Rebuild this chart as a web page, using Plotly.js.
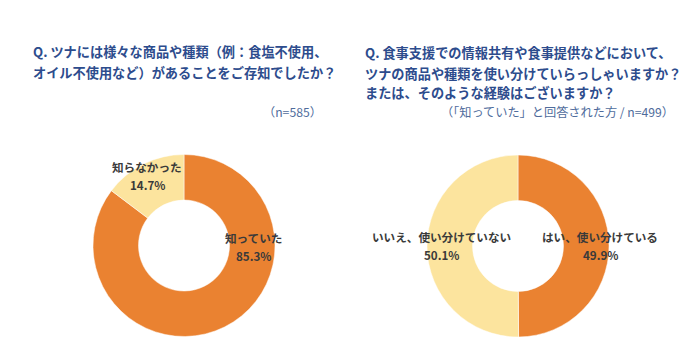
<!DOCTYPE html>
<html>
<head>
<meta charset="utf-8">
<script src="https://cdn.plot.ly/plotly-3.0.1.min.js"></script>
<style>html,body{margin:0;padding:0;background:#fff;}#chart{width:698px;height:364px;}</style>
</head>
<body>
<div id="chart"></div>
<script>
// Left chart data
const leftLabels = ["知っていた", "知らなかった"];
const leftValues = [85.3, 14.7];
// Right chart data
const rightLabels = ["はい、使い分けている", "いいえ、使い分けていない"];
const rightValues = [49.9, 50.1];
const sliceColors = ["#EA8231", "#FCE49E"];

const leftTitleLines = ["Q. ツナには様々な商品や種類（例：食塩不使用、", "オイル不使用など）があることをご存知でしたか？"];
const leftNote = "（n=585）";
const rightTitleLines = ["Q. 食事支援での情報共有や食事提供などにおいて、", "ツナの商品や種類を使い分けていらっしゃいますか？", "または、そのような経験はございますか？"];
const rightNote = "（「知っていた」と回答された方 / n=499）";

const W = 698, H = 364;
const px = x => x / W;
const py = y => 1 - y / H;

const font = "Noto Sans CJK JP, Noto Sans, sans-serif";
const pieCommon = {
  type: "pie", hole: 0.5, sort: false, direction: "clockwise", rotation: 0,
  textinfo: "none", hoverinfo: "label+percent", showlegend: false,
  marker: {colors: sliceColors, line: {color: "#ffffff", width: 0.5}}
};
const data = [
  Object.assign({}, pieCommon, {labels: leftLabels, values: leftValues,
    domain: {x: [px(93), px(275)], y: [py(337), py(154)]}}),
  Object.assign({}, pieCommon, {labels: rightLabels, values: rightValues,
    domain: {x: [px(427), px(609)], y: [py(337), py(155)]}})
];

const labelFont = {family: font, size: 11.6, color: "#3a3a3a"};
function lbl(text, value, x, y) {
  return [
    {text: "<b>" + text + "</b>", x: px(x), y: py(y), xref: "paper", yref: "paper",
     showarrow: false, xanchor: "center", yanchor: "bottom", borderpad: 0, font: labelFont},
    {text: "<b>" + value.toFixed(1) + "%</b>", x: px(x), y: py(y), xref: "paper", yref: "paper",
     showarrow: false, xanchor: "center", yanchor: "top", borderpad: 0, font: labelFont}
  ];
}
const titleFont = {family: font, size: 13.2, color: "#2D4C8D"};
const noteFont = {family: font, size: 12.2, color: "#4F6C9C"};
// line 0 sits above the split line, others below it (stacked with a shift)
function titleLines(lines, x, ySplit, step) {
  return lines.map((t, i) => ({text: "<b>" + t + "</b>", x: px(x), y: py(ySplit),
    xref: "paper", yref: "paper", xanchor: "left", yanchor: i === 0 ? "bottom" : "top",
    yshift: i === 0 ? 0 : -(i - 1) * step, showarrow: false,
    borderpad: 0, font: titleFont}));
}
const annotations = [].concat(
  titleLines(leftTitleLines, 32, 61.5, 19.5),
  titleLines(rightTitleLines, 364, 62.5, 19.5),
  [
    {text: leftNote, x: px(323), y: py(112), xref: "paper", yref: "paper",
     xanchor: "right", yanchor: "middle", showarrow: false, borderpad: 0, font: noteFont},
    {text: rightNote, x: px(675), y: py(111.5), xref: "paper", yref: "paper",
     xanchor: "right", yanchor: "middle", showarrow: false, borderpad: 0, font: noteFont}
  ],
  lbl(leftLabels[0], leftValues[0], 253, 247),
  lbl(leftLabels[1], leftValues[1], 147, 176),
  lbl(rightLabels[0], rightValues[0], 600, 246),
  lbl(rightLabels[1], rightValues[1], 442, 246)
);

Plotly.newPlot("chart", data, {
  width: W, height: H, margin: {l: 0, r: 0, t: 0, b: 0},
  paper_bgcolor: "#ffffff", plot_bgcolor: "#ffffff",
  font: {family: font}, annotations: annotations
}, {displayModeBar: false, staticPlot: true});
</script>
</body>
</html>
